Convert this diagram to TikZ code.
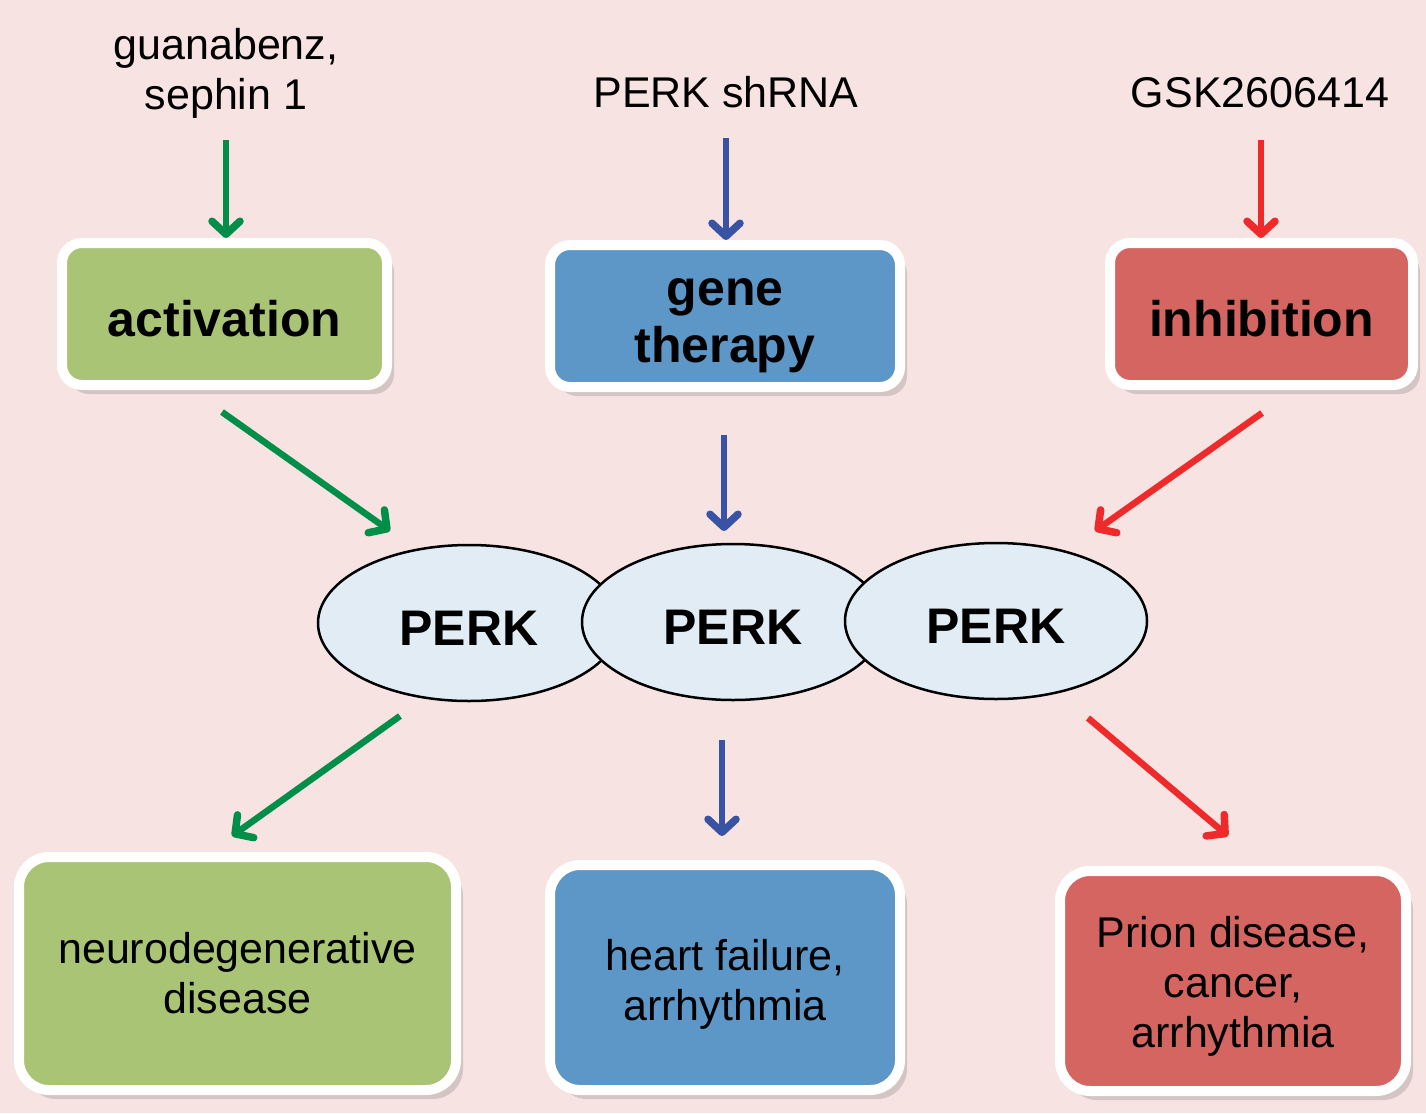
\documentclass[tikz,border=0pt]{standalone}
\usepackage{fontspec}
\setmainfont{Liberation Sans}
\usetikzlibrary{shapes.geometric}
\usetikzlibrary{arrows.meta}
\usetikzlibrary{shadows}
\definecolor{bgpink}{RGB}{247,227,226}
\definecolor{boxgreen}{RGB}{169,196,117}
\definecolor{boxblue}{RGB}{92,151,199}
\definecolor{boxred}{RGB}{212,101,97}
\definecolor{perkfill}{RGB}{225,236,245}
\definecolor{arrgreen}{RGB}{0,142,72}
\definecolor{arrblue}{RGB}{57,83,164}
\definecolor{arrred}{RGB}{238,42,42}
\tikzset{
    box/.style={draw=white, line width=10pt, rounded corners=20pt, align=center,
        inner sep=0pt, drop shadow={shadow xshift=7pt, shadow yshift=-9pt, opacity=.3}},
    upbox/.style={box, minimum height=142pt, text height=46pt, font=\fontsize{50}{57}\selectfont\bfseries},
    lowbox/.style={box, rounded corners=30pt, font=\fontsize{43}{50}\selectfont},
    perk/.style={ellipse, draw=black, line width=2.5pt, fill=perkfill, inner sep=0pt, text height=44pt,
        minimum width=302pt, minimum height=156pt, font=\fontsize{50}{56}\selectfont\bfseries},
    drug/.style={align=center, font=\fontsize{43}{50}\selectfont},
    tip/.style={-{Straight Barb[round,length=13pt,width=28pt,line width=7.5pt]}},
    garrow/.style={draw=arrgreen, line width=6.5pt, tip},
    barrow/.style={draw=arrblue, line width=6.5pt, tip},
    rarrow/.style={draw=arrred, line width=6.5pt, tip}
}
\begin{document}
\begin{tikzpicture}[x=1pt, y=-1pt]
\fill[bgpink] (0,0) rectangle (1426,1113);
\useasboundingbox (0,0) rectangle (1426,1113);

% drugs
\node[drug] (guan) at (226,73) {guanabenz,\\sephin 1};
\node[drug, anchor=base] (shrna) at (726,108) {PERK shRNA};
\node[drug, anchor=base] (gsk) at (1260,108) {GSK2606414};

% strategies
\node[upbox, fill=boxgreen, minimum width=325pt] (activ) at (224.5,314) {activation};
\node[upbox, fill=boxblue, minimum width=350pt, text height=102pt, text depth=10pt] (gene) at (725,316) {gene\\therapy};
\node[upbox, fill=boxred, minimum width=303pt] (inhib) at (1261.5,314) {inhibition};

% PERK
\node[perk] (perkA) at (469,623) {PERK};
\node[perk] (perkB) at (733,622) {PERK};
\node[perk] (perkC) at (996,621) {PERK};

% diseases
\node[lowbox, fill=boxgreen, minimum width=437pt, minimum height=233pt] (neuro) at (237.5,973.5) {neurodegenerative\\disease};
\node[lowbox, fill=boxblue, minimum width=350pt, minimum height=225pt, text height=94pt, text depth=9pt] (heart) at (725,977.5) {heart failure,\\arrhythmia};
\node[lowbox, fill=boxred, minimum width=346pt, minimum height=220pt, text height=141pt, text depth=9pt] (prion) at (1233,981) {Prion disease,\\cancer,\\arrhythmia};

% arrow ends
\coordinate (g1) at (226,140);
\coordinate (b1) at (726,138);
\coordinate (r1) at (1261,140);
\coordinate (g2) at (222,412);
\coordinate (g2e) at (390,531);
\coordinate (b2) at (724,435);
\coordinate (b2e) at (724,531);
\coordinate (r2) at (1262,413);
\coordinate (r2e) at (1095,531);
\coordinate (g3) at (400,716);
\coordinate (g3e) at (232,836);
\coordinate (b3) at (722,740);
\coordinate (b3e) at (722,836);
\coordinate (r3) at (1088,718);
\coordinate (r3e) at (1228,836);

\draw[style={garrow}] (g1) -- (g1 |- activ.north);
\draw[style={barrow}] (b1) -- (b1 |- gene.north);
\draw[style={rarrow}] (r1) -- (r1 |- inhib.north);
\draw[style={garrow}] (g2) -- (g2e);
\draw[style={barrow}] (b2) -- (b2e);
\draw[style={rarrow}] (r2) -- (r2e);
\draw[style={garrow}] (g3) -- (g3e);
\draw[style={barrow}] (b3) -- (b3e);
\draw[style={rarrow}] (r3) -- (r3e);
\end{tikzpicture}
\end{document}
